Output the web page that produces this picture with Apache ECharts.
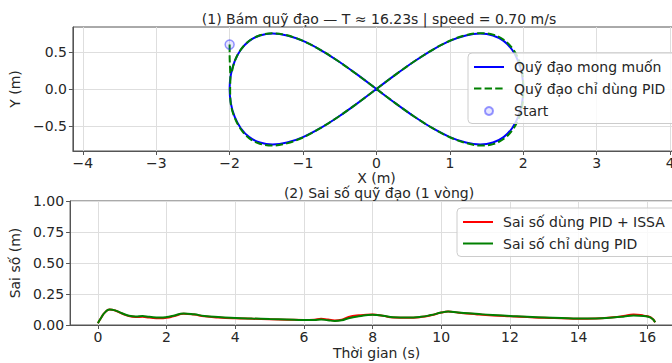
<!DOCTYPE html>
<html>
<head>
<meta charset="utf-8">
<script src="https://cdn.jsdelivr.net/npm/echarts@6/dist/echarts.min.js"></script>
<style>
html,body{margin:0;padding:0;background:#fff;overflow:hidden;}
#c{width:684px;height:363px;}
</style>
</head>
<body>
<div id="c"></div>
<script>
// ---------- data ----------
const title1 = '(1) Bám quỹ đạo — T ≈ 16.23s | speed = 0.70 m/s';
const title2 = '(2) Sai số quỹ đạo (1 vòng)';
const nameDesired = 'Quỹ đạo mong muốn';
const namePID = 'Quỹ đạo chỉ dùng PID';
const nameStart = 'Start';
const nameErrISSA = 'Sai số dùng PID + ISSA';
const nameErrPID = 'Sai số chỉ dùng PID';

// desired trajectory
const desiredX = [0,0.261,0.518,0.765,1.0,1.218,1.414,1.587,1.732,1.848,1.932,1.983,2.0,
  1.983,1.932,1.848,1.732,1.587,1.414,1.218,1.0,0.765,0.518,0.261,0,
  -0.261,-0.518,-0.765,-1.0,-1.218,-1.414,-1.587,-1.732,-1.848,-1.932,-1.983,-2.0,
  -1.983,-1.932,-1.848,-1.732,-1.587,-1.414,-1.218,-1.0,-0.765,-0.518,-0.261,0];
const desiredY = [0,0.194,0.375,0.530,0.650,0.724,0.750,0.724,0.650,0.530,0.375,0.194,0,
  -0.194,-0.375,-0.530,-0.650,-0.724,-0.750,-0.724,-0.650,-0.530,-0.375,-0.194,0,
  0.194,0.375,0.530,0.650,0.724,0.750,0.724,0.650,0.530,0.375,0.194,0,
  -0.194,-0.375,-0.530,-0.650,-0.724,-0.750,-0.724,-0.650,-0.530,-0.375,-0.194,0];

// PID-only trajectory
const pidX = [-2.0,-2.0,-1.995,-1.99,-1.993,
  -1.985,-1.935,-1.85,-1.735,-1.59,-1.42,-1.22,-1.0,-0.765,-0.518,-0.261,0,
  0.261,0.518,0.765,1.0,1.218,1.414,1.59,1.74,1.86,1.945,1.99,2.0,
  1.99,1.945,1.86,1.74,1.59,1.414,1.218,1.0,0.765,0.518,0.261,0,
  -0.261,-0.518,-0.765,-1.0,-1.218,-1.414,-1.587,-1.732,-1.848,-1.932,-1.975];
const pidY = [0.6,0.45,0.3,0.15,0.0,
  -0.194,-0.38,-0.54,-0.665,-0.74,-0.765,-0.735,-0.655,-0.53,-0.375,-0.194,0,
  0.194,0.375,0.53,0.652,0.728,0.755,0.735,0.66,0.54,0.38,0.194,0,
  -0.194,-0.38,-0.545,-0.67,-0.745,-0.765,-0.73,-0.652,-0.53,-0.375,-0.194,0,
  0.194,0.375,0.53,0.65,0.726,0.752,0.726,0.652,0.532,0.375,0.2];

const startX = -2.0, startY = 0.6;

// tracking error over one lap
const errT = [0,0.1,0.2,0.34,0.5,0.7,0.9,1.1,1.3,1.5,1.8,2.0,2.2,2.5,2.8,3.1,3.5,4.0,4.5,5.0,5.5,6.0,6.3,6.5,6.7,6.9,7.1,7.3,7.6,8.0,8.3,8.6,9.0,9.4,9.7,10.0,10.2,10.5,11.0,11.5,12.0,12.5,13.0,13.5,14.0,14.5,15.0,15.3,15.6,15.9,16.1,16.23];
const errPID = [0.015,0.06,0.1,0.125,0.118,0.095,0.075,0.068,0.072,0.066,0.06,0.064,0.075,0.093,0.086,0.073,0.064,0.057,0.052,0.048,0.045,0.041,0.041,0.044,0.038,0.033,0.038,0.055,0.07,0.082,0.075,0.062,0.06,0.066,0.08,0.1,0.108,0.1,0.09,0.08,0.073,0.066,0.061,0.056,0.052,0.052,0.06,0.067,0.076,0.072,0.06,0.022];
const errISSA = [0.015,0.06,0.1,0.125,0.117,0.093,0.072,0.065,0.066,0.06,0.054,0.058,0.07,0.09,0.084,0.07,0.061,0.054,0.05,0.046,0.043,0.041,0.043,0.05,0.044,0.036,0.042,0.065,0.078,0.084,0.074,0.06,0.058,0.064,0.078,0.1,0.108,0.099,0.087,0.077,0.07,0.064,0.058,0.054,0.05,0.052,0.062,0.072,0.085,0.075,0.062,0.022];

// tick labels
const xTicks1 = [-4,-3,-2,-1,0,1,2,3,4];
const yTicks1 = [-0.5,0,0.5];
const xTicks2 = [0,2,4,6,8,10,12,14,16];
const yTicks2 = [0,0.25,0.5,0.75,1.0];

// ---------- chart ----------
const zip = (a,b) => a.map((v,i)=>[v,b[i]]);
const FONT = 'DejaVu Sans';
const TXT = '#262626';
const minus = s => String(s).replace('-', '\u2212');

function axisCommon() {
  return {
    axisLine: {show: true, onZero: false, lineStyle: {color: '#555', width: 1}},
    axisTick: {show: true, inside: false, length: 4, lineStyle: {color: '#555'}},
    splitLine: {show: true, lineStyle: {color: '#dedede', width: 1}},
    axisLabel: {color: TXT, fontFamily: FONT, fontSize: 14},
    nameTextStyle: {color: TXT, fontFamily: FONT, fontSize: 14},
    nameLocation: 'middle'
  };
}

const x1 = axisCommon();
Object.assign(x1, {type: 'value', gridIndex: 0, min: -4.135, max: 4.135, name: 'X (m)', nameGap: 20});
x1.axisTick.customValues = xTicks1;
x1.axisLabel = Object.assign({}, x1.axisLabel, {customValues: xTicks1, margin: 5, formatter: v => minus(v)});

const y1 = axisCommon();
Object.assign(y1, {type: 'value', gridIndex: 0, min: -0.838, max: 0.838, name: 'Y (m)', nameGap: 42});
y1.axisTick.customValues = yTicks1;
y1.axisLabel = Object.assign({}, y1.axisLabel, {customValues: yTicks1, margin: 6, formatter: v => minus(Number(v).toFixed(1))});

const x2 = axisCommon();
Object.assign(x2, {type: 'value', gridIndex: 1, min: -0.81, max: 17.04, name: 'Thời gian (s)', nameGap: 21});
x2.axisTick.customValues = xTicks2;
x2.axisLabel = Object.assign({}, x2.axisLabel, {customValues: xTicks2, margin: 5, formatter: v => minus(v)});

const y2 = axisCommon();
Object.assign(y2, {type: 'value', gridIndex: 1, min: 0, max: 1, name: 'Sai số (m)', nameGap: 42});
y2.axisTick.customValues = yTicks2;
y2.axisLabel = Object.assign({}, y2.axisLabel, {customValues: yTicks2, margin: 6, formatter: v => Number(v).toFixed(2)});

const legendBase = {
  orient: 'vertical', itemWidth: 30, itemHeight: 14, itemGap: 7.5,
  textStyle: {color: TXT, fontFamily: FONT, fontSize: 14, lineHeight: 14, padding: [0,0,0,5]},
  selectedMode: false
};

const option = {
  animation: false,
  backgroundColor: '#fff',
  title: [
    {text: title1, left: 374, top: 7, textAlign: 'center',
     textStyle: {color: TXT, fontFamily: FONT, fontSize: 14, fontWeight: 'normal'}},
    {text: title2, left: 374, top: 181, textAlign: 'center',
     textStyle: {color: TXT, fontFamily: FONT, fontSize: 14, fontWeight: 'normal'}}
  ],
  grid: [
    {left: 68, top: 27, width: 612, height: 124, show: true, borderColor: '#555', borderWidth: 1, backgroundColor: 'transparent'},
    {left: 68, top: 201, width: 615, height: 124, show: true, borderColor: '#555', borderWidth: 1, backgroundColor: 'transparent'}
  ],
  xAxis: [x1, x2],
  yAxis: [y1, y2],
  legend: [
    Object.assign({}, legendBase, {
      left: 468, top: 53, padding: [7, 14, 28, 5],
      data: [nameDesired, namePID],
      itemStyle: {opacity: 0},
      backgroundColor: 'rgba(255,255,255,0.8)', borderColor: '#cccccc', borderWidth: 1, borderRadius: 4
    }),
    Object.assign({}, legendBase, {
      left: 479, top: 104, padding: [0, 0, 0, 5], itemHeight: 8, itemWidth: 8,
      textStyle: {color: TXT, fontFamily: FONT, fontSize: 14, lineHeight: 8, padding: [0,0,0,16]},
      data: [nameStart]
    }),
    Object.assign({}, legendBase, {
      left: 457, top: 208, padding: [7, 14, 6, 5],
      data: [nameErrISSA, nameErrPID],
      itemStyle: {opacity: 0},
      backgroundColor: 'rgba(255,255,255,0.8)', borderColor: '#cccccc', borderWidth: 1, borderRadius: 4
    })
  ],
  series: [
    {name: nameDesired, type: 'line', xAxisIndex: 0, yAxisIndex: 0, data: zip(desiredX, desiredY),
     smooth: 0.35, symbol: 'none', showSymbol: false, lineStyle: {color: '#0000ff', width: 2}, itemStyle: {color: '#0000ff'}, z: 2},
    {name: namePID, type: 'line', xAxisIndex: 0, yAxisIndex: 0, data: zip(pidX, pidY),
     smooth: 0.35, symbol: 'none', showSymbol: false, lineStyle: {color: '#008000', width: 2, type: [7.4, 3.2]}, itemStyle: {color: '#008000'}, z: 3},
    {name: nameStart, type: 'scatter', xAxisIndex: 0, yAxisIndex: 0, data: [[startX, startY]],
     symbol: 'circle', symbolSize: 9,
     itemStyle: {color: 'rgba(0,0,255,0.12)', borderColor: 'rgba(40,40,255,0.6)', borderWidth: 1.5}, z: 4},
    {name: nameErrISSA, type: 'line', xAxisIndex: 1, yAxisIndex: 1, data: zip(errT, errISSA),
     smooth: true, symbol: 'none', showSymbol: false, lineStyle: {color: '#ff0000', width: 2}, itemStyle: {color: '#ff0000'}, z: 2},
    {name: nameErrPID, type: 'line', xAxisIndex: 1, yAxisIndex: 1, data: zip(errT, errPID),
     smooth: true, symbol: 'none', showSymbol: false, lineStyle: {color: '#008000', width: 2}, itemStyle: {color: '#008000'}, z: 3}
  ]
};

const chart = echarts.init(document.getElementById('c'), null, {renderer: 'svg'});
chart.setOption(option);
</script>
</body>
</html>
